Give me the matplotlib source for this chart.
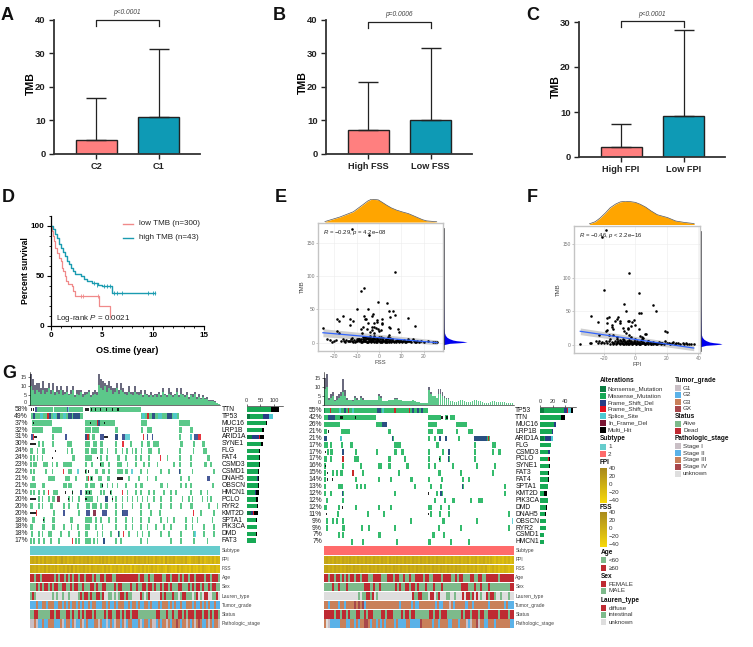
import numpy as np
import matplotlib
matplotlib.use('Agg')
import matplotlib.pyplot as plt
from matplotlib.colors import LinearSegmentedColormap, to_rgb
from matplotlib.patches import Rectangle
from matplotlib.ticker import MultipleLocator

W, H = 753, 647
plt.rcParams['font.family'] = ['Liberation Sans', 'DejaVu Sans']
plt.rcParams['mathtext.fontset'] = 'custom'
plt.rcParams['mathtext.it'] = 'Liberation Sans:italic'
plt.rcParams['mathtext.rm'] = 'Liberation Sans'

# ---- bar panels
a_labels = ['C2', 'C1']
a_mean = [4.2, 10.8]
a_top = [16.5, 31.3]
b_labels = ['High FSS', 'Low FSS']
b_mean = [7.2, 10.0]
b_top = [21.4, 31.5]
c_labels = ['High FPI', 'Low FPI']
c_mean = [2.3, 9.2]
c_top = [7.3, 28.3]

# ---- survival
low_t = [0, 0.15, 0.25, 0.35, 0.45, 0.6, 0.8, 1.0, 1.1, 1.25, 1.4, 1.5, 1.7, 2.1, 2.2, 2.4, 4.7, 5.8]
low_s = [100, 95, 90, 85, 78, 73, 68, 65, 58, 55, 50, 45, 42, 40, 35, 30, 20, 10]
high_t = [0, 0.2, 0.4, 0.6, 0.8, 1.0, 1.2, 1.4, 1.6, 1.8, 2.0, 2.2, 2.4, 3.0, 3.3, 3.6, 4.0, 4.6, 5.0, 6.0, 10.2]
high_s = [100, 97, 92, 88, 82, 78, 74, 70, 65, 62, 58, 55, 52, 50, 47, 45, 43, 41, 40, 33, 33]
low_cens_t = [3.0, 3.2, 4.6, 5.85]
low_cens_s = [30, 30, 30, 10]
high_cens_t = [4.2, 4.5, 5.2, 5.5, 5.8, 6.2, 6.5, 7.0, 9.5, 10.0, 10.2]
high_cens_s = [43, 41, 40, 40, 40, 33, 33, 33, 33, 33, 33]

# ---- scatter E
e_fss = [-12, -4.5, 7.3, -6.5, -8, -0.5, 3.5, -5, -10, 4.5, 6.5, 7.3, -2.5, -3, -6.5, -6.3, -5.7, 13, 5, -18.5,
         -18, -16, -13, -11.5, -13, -5, -1, -2, -1, 1.5, 1.5, 1.5, -8, -7, -5.5, -4, -3, -2, -1.5, -0.5,
         0, 1, -3, -2, 4.5, 5, 8.5, 9, 16, -25, -18.5, -7.5, 4.5, -4, -2, -18, -12, -10, -9, -6,
         -23, -22, -21, -20, -19, -17, -16, -15, -14, -13, -12.5, -12, -11, -10.5, -10, -9.5, -9, -8.5, -8, -7.5,
         -7, -6.8, -6.5, -6, -5.5, -5, -4.8, -4.5, -4, -3.5, -3, -2.8, -2.5, -2, -1.5, -1, -0.8, -0.5, 0, 0.5,
         1, 1.3, 1.5, 2, 2.5, 3, 3.3, 3.5, 4, 4.5, 5, 5.5, 6, 6.5, 7, 7.5, 8, 8.5, 9, 9.5,
         10, 10.5, 11, 11.5, 12, 12.5, 13, 14, 15, 16, 17, 18, 19, 20, 22, 24, 25, 26,
         -7, -6, -5, -4, -3, -2, -1, 0, 1, 2, 3, 4, 5, 6, -5.5, -3.5, -1.5, 0.5, 2.5, 4.5,
         -15.5, -14.5, -13.5, -11.5, -10.2, -9.2, -8.2, -7.2, -6.2, -5.2, -4.2, -3.2, -2.2, -1.2, -0.2, 0.8, 1.8, 2.8, 3.8, 4.8,
         5.8, 6.8, 7.8, 8.8, 9.8, 10.8, 11.8, 12.8, 13.5, 14.5, 15.5, 16.5, -8.8, -7.8, -6.8, -5.8, -4.6, -3.6, -2.6, -1.6]
e_tmb = [171, 162, 107, 82, 78, 61, 60, 51, 50, 47, 48, 42, 43, 40, 40, 36, 36, 37, 39, 36,
         32, 40, 35, 32, 27, 29, 34, 29, 31, 35, 30, 28, 21, 23, 20, 16, 24, 24, 22, 20,
         17, 19, 19, 15, 24, 22, 21, 16, 25, 22, 17, 14, 11, 10, 10, 14, 7, 6, 5, 8,
         6, 4, 1, 2, 4, 3, 5, 1, 3, 2, 5, 2, 4, 1, 3, 5, 2, 4, 3, 1,
         6, 2, 4, 3, 7, 1, 5, 3, 6, 2, 4, 7, 2, 5, 3, 6, 1, 4, 2, 5,
         3, 6, 1, 4, 2, 5, 1, 3, 6, 2, 4, 1, 5, 2, 3, 1, 4, 2, 1, 3,
         2, 1, 4, 2, 1, 3, 5, 2, 6, 1, 2, 1, 3, 1, 2, 1, 1, 1,
         8, 9, 7, 8, 6, 9, 7, 8, 9, 7, 6, 8, 7, 6, 0.5, 1, 0.5, 1, 0.5, 1,
         2, 4, 3, 1, 2, 4, 1, 2, 3, 1, 2, 3, 1, 2, 4, 1, 3, 2, 1, 3,
         2, 1, 3, 2, 3, 2, 1, 2, 3, 1, 2, 1, 6, 5, 5, 6, 5, 5, 6, 5]
e_dens_x = [-24.1, -17.4, -11.4, -7, -5, -3.3, -0.3, 1.5, 3.4, 5.5, 7.9, 10.5, 13.1, 15.5, 17.6, 19.5, 21.3, 25.8]
e_dens_y = [0.02, 0.22, 0.45, 0.77, 0.92, 1.0, 0.97, 0.86, 0.74, 0.62, 0.52, 0.44, 0.37, 0.27, 0.18, 0.1, 0.05, 0.01]
e_tmb_dens_y = [-3, -1, 0, 1, 2, 3, 4, 6, 8, 11, 15, 22, 35, 60, 100, 170]
e_tmb_dens_x = [0.0, 0.25, 0.7, 1.0, 0.85, 0.55, 0.4, 0.25, 0.15, 0.08, 0.04, 0.02, 0.015, 0.008, 0.004, 0.002]
e_line_x = [-25, 26]
e_line_y = [15, 0]
e_line_lo = [9, -3]
e_line_hi = [21, 4]

# ---- scatter F
f_fpi = [-19, -21, -4, -20, 2, -7, 11, -6, 13, 2, 3.5, -28, -18, -17, -11, -12, -13, -24, -10, -10,
         -15, -18, -4, -1, -2, -5, 0, -3, -5, -8, -15, -14, -19, -18, -7, -6, -5, 2, 19, 20,
         6, 7, 3, 4, 5, -4, -3, -23, -14, -12, -17,
         -35, -29, -28, -25, -24, -23, -22, -21, -20, -19, -18, -17, -16, -15, -14, -13, -12, -11, -10, -9.5,
         -9, -8.5, -8, -7.5, -7, -6.5, -6, -5.5, -5, -4.5, -4, -3.5, -3, -2.5, -2, -1.5, -1, -0.5, 0, 0.5,
         1, 1.5, 2, 2.5, 3, 3.5, 4, 4.5, 5, 6, 7, 8, 9, 10, 11, 12, 13, 14, 15, 16,
         17, 18, 19, 20, 21, 22, 23, 24, 25, 26, 27, 28, 30, 31, 32, 33, 34, 35, 37,
         -16, -12, -8, -4, 0, 4, 8, -14, -10, -6, -2, 2, 6, 10,
         -13.5, -12.5, -11.5, -10.5, -8.8, -7.8, -6.8, -5.8, -4.8, -3.8, -2.8, -1.8, -0.8, 0.2, 1.2, 2.2, 3.2, 4.2, 5.2, 6.2,
         7.2, 8.2, 9.2, 10.2, 11.2, 12.2, 13.2, 14.2, 15.2, 16.2]
f_tmb = [171, 161, 107, 82, 77, 61, 60, 50, 50, 47, 48, 43, 40, 41, 42, 38, 35, 34, 35, 32,
         30, 33, 36, 37, 34, 36, 30, 28, 24, 25, 27, 23, 20, 22, 20, 18, 25, 23, 21, 19,
         16, 16, 13, 12, 10, 14, 11, 14, 14, 11, 15,
         1, 2, 2, 6, 3, 5, 2, 4, 3, 6, 2, 5, 1, 4, 3, 6, 2, 5, 7, 3,
         6, 2, 5, 1, 7, 4, 2, 6, 3, 1, 5, 2, 6, 4, 1, 3, 5, 2, 4, 1,
         6, 3, 2, 4, 1, 5, 3, 2, 4, 1, 3, 5, 2, 1, 4, 2, 3, 1, 4, 2,
         3, 1, 5, 2, 3, 1, 2, 4, 1, 2, 3, 1, 2, 1, 2, 1, 1, 1, 1,
         8, 9, 8, 7, 9, 8, 6, 1, 1, 0.5, 1, 0.5, 1, 0.5,
         3, 1, 4, 2, 3, 1, 4, 2, 3, 1, 4, 2, 3, 1, 2, 3, 1, 2, 3, 1,
         2, 1, 3, 2, 1, 2, 1, 3, 2, 1]
f_dens_x = [-29.2, -25.5, -22.4, -19, -16, -12.5, -9.6, -6.4, -3, 0, 3, 6.4, 10, 13.9, 17, 20.3, 25.6, 31, 37.3]
f_dens_y = [0.03, 0.12, 0.28, 0.5, 0.72, 0.88, 0.97, 1.0, 0.98, 0.95, 0.87, 0.75, 0.58, 0.42, 0.36, 0.3, 0.15, 0.09, 0.04]
f_tmb_dens_y = [-3, -1, 0, 1, 2, 3, 4, 6, 8, 11, 15, 22, 35, 60, 100, 170]
f_tmb_dens_x = [0.0, 0.25, 0.7, 1.0, 0.9, 0.6, 0.42, 0.26, 0.16, 0.08, 0.04, 0.03, 0.02, 0.008, 0.004, 0.002]
f_line_x = [-35, 37]
f_line_y = [20, -5]
f_line_lo = [15, -9]
f_line_hi = [25, -1]

# ---- oncoplot, left cohort
left_pct = [58, 49, 37, 32, 31, 30, 24, 24, 23, 22, 21, 21, 21, 20, 20, 20, 18, 18, 18, 17]
left_genes = ['TTN', 'TP53', 'MUC16', 'LRP1B', 'ARID1A', 'SYNE1', 'FLG', 'FAT4', 'CSMD3', 'CSMD1',
              'DNAH5', 'OBSCN', 'HMCN1', 'PCLO', 'RYR2', 'KMT2D', 'SPTA1', 'PIK3CA', 'DMD', 'FAT3']
left_runs = [
    [(22, 68), (72, 110), (117, 160), (180, 332)],
    [(3, 160), (332, 447)],
    [(7, 65), (165, 255), (332, 350), (447, 480)],
    [(7, 40), (67, 95), (165, 182), (185, 207), (255, 265), (332, 340), (350, 365), (447, 455), (480, 490)],
    [(67, 70), (165, 180), (185, 195), (255, 265), (447, 450), (480, 485)],
    [25, (35, 43), (67, 70), (110, 125), (165, 180), (190, 200), (210, 220), (255, 260), 300, (332, 338), (350, 360), (368, 388), (450, 460), (488, 495), (515, 525)],
    [(0, 10), 20, (35, 45), (110, 115), (122, 128), (165, 178), (182, 200), (210, 220), 230, 255, 275, 288, 305, 315, 332, (355, 365), (385, 390), 447, 488, (520, 530)],
    [0, 10, 20, (35, 40), (125, 135), (165, 185), (210, 215), (228, 235), (260, 270), 285, 315, 330, 355, 410, 447, 480, (530, 540)],
    [(0, 5), 10, 15, (40, 55), (65, 70), (78, 85), (100, 125), 165, (182, 190), (210, 222), (235, 240), (260, 275), 290, 315, 340, 355, 380, 430, 447, 480, (522, 532), 540],
    [0, 10, 45, (65, 70), (115, 125), 165, (195, 205), (215, 225), 235, (260, 280), (285, 295), 330, 350, 390, 415, 447, 485, 550],
    [(7, 15), (55, 75), (105, 120), (135, 140), (168, 172), (180, 190), (205, 215), (230, 240), 295, 325, 350, 375, 450, 475],
    [(0, 18), (35, 45), (100, 110), (115, 125), (165, 175), (180, 195), (210, 220), 230, 245, 260, 285, 315, (330, 338), (390, 400), 410, 450, 465, 480, (545, 552)],
    [(0, 5), (10, 15), 25, 40, (70, 85), 125, (165, 185), 210, (220, 225), 240, 290, 315, 330, 355, 370, 400, 420, 435, 480, 510, 530],
    [25, (35, 40), (55, 60), (65, 75), 115, 125, 145, (165, 190), 200, (225, 235), 245, 255, 275, 290, 305, 320, 335, 350, 370, 390, 420, 455, 475, 485, 515, 530, 540],
    [(0, 10), 25, 35, (60, 70), 100, 115, 142, (168, 180), (185, 200), 210, (225, 235), 255, 275, 305, 330, 355, 390, 420, 450, 480, 485, 535, 560],
    [70, 145, 255, 275, 330, 360, 388, 510, 550],
    [(5, 15), (40, 45), (65, 75), (120, 128), (165, 185), 195, 210, 235, 255, 285, 305, 330, 355, 390, 410, 430, 465, 485, 500, 545],
    [(0, 10), (35, 45), (65, 75), 100, 122, 142, (165, 180), 195, 215, 255, 285, 305, 330, 350, 375, 400, 420, 465, 485, 520, 550],
    [(2, 10), 25, (35, 40), (55, 65), 90, 115, 145, (165, 175), 200, 215, 240, 265, 295, 320, 335, 355, 390, 415, 450, 490, 520, 550],
    [0, 10, 25, 40, 60, 85, 135, 145, (165, 182), 190, 200, 220, (255, 260), 270, 330, 350, 420, 450, 490, 530],
]
left_marks = [
    [(2, 6, 'M'), (8, 12, 'M'), (14, 20, 'D'), (110, 114, 'D'), (114, 117, 'S'), (165, 170, 'M'), (172, 176, 'M'), (182, 186, 'M'), (195, 199, 'M'), (210, 214, 'M'), (228, 232, 'M'), (245, 248, 'M'), (262, 266, 'M')],
    [(10, 14, 'D'), (30, 40, 'S'), (52, 56, 'I'), (58, 64, 'D'), (70, 78, 'S'), (80, 90, 'D'), (100, 108, 'S'), (115, 125, 'D'), (130, 150, 'D'), (335, 345, 'S'), (352, 358, 'I'), (365, 375, 'D'), (385, 395, 'S'), (410, 425, 'D'), (430, 440, 'S')],
    [(8, 12, 'M'), (180, 184, 'M'), (200, 205, 'I'), (205, 210, 'D'), (222, 225, 'M')],
    [],
    [(2, 8, 'D'), (8, 12, 'I'), (12, 20, 'M'), (105, 110, 'D'), (165, 172, 'D'), (172, 178, 'I'), (210, 222, 'D'), (222, 235, 'M'), (255, 265, 'D'), (275, 285, 'D'), (285, 300, 'S'), (338, 342, 'I'), (352, 355, 'D'), (365, 368, 'D'), (480, 485, 'S'), (493, 505, 'D'), (505, 513, 'I')],
    [(0, 18, 'M'), (275, 282, 'I')],
    [(75, 78, 'M')],
    [(67, 69, 'M'), (200, 203, 'M'), (390, 393, 'I')],
    [(210, 213, 'M')],
    [(100, 103, 'I'), (142, 148, 'S'), (165, 168, 'M'), (175, 178, 'M'), (302, 310, 'S'), (447, 450, 'D')],
    [(175, 178, 'I'), (182, 185, 'M'), (260, 280, 'M'), (530, 540, 'D')],
    [(215, 218, 'M')],
    [(55, 58, 'I'), (105, 108, 'M'), (125, 128, 'M'), (150, 155, 'D'), (168, 172, 'M'), (176, 180, 'M'), (240, 243, 'M'), (275, 280, 'I')],
    [(0, 18, 'M'), (82, 90, 'X'), (115, 118, 'M'), (165, 170, 'M'), (225, 235, 'D'), (245, 248, 'M')],
    [],
    [(0, 18, 'M'), (18, 22, 'I'), (100, 105, 'D'), (168, 180, 'D'), (190, 198, 'X'), (215, 230, 'D'), (275, 295, 'D'), (490, 493, 'I')],
    [(40, 43, 'M')],
    [],
    [(280, 283, 'I'), (265, 268, 'D'), (493, 497, 'S')],
    [(125, 129, 'I'), (220, 224, 'D')],
]
left_nonsense = [0, 12, 0, 0, 18, 0, 0, 0, 0, 0, 0, 0, 0, 0, 0, 14, 0, 0, 0, 0]
left_missense = [90, 48, 70, 56, 2, 52, 44, 43, 45, 40, 36, 40, 30, 35, 38, 1, 34, 37, 32, 32]
left_del = [0, 22, 0, 0, 24, 0, 0, 0, 0, 0, 6, 0, 4, 0, 0, 8, 0, 0, 0, 0]
left_ins = [0, 0, 0, 0, 3, 0, 0, 0, 0, 0, 0, 0, 0, 0, 0, 3, 0, 0, 0, 0]
left_splice = [0, 12, 0, 0, 0, 0, 0, 0, 0, 0, 0, 0, 0, 0, 0, 0, 0, 0, 0, 0]
left_multi = [27, 0, 5, 8, 15, 8, 4, 5, 2, 3, 4, 4, 10, 7, 4, 16, 3, 2, 5, 2]

left_top_green = [10, 8, 6, 8, 7, 6, 8, 6, 7, 9, 6, 8, 5, 7, 6, 8, 5, 6, 7, 5, 6, 8, 4, 6, 5, 7, 4, 5, 6, 7, 4, 5,
                  6, 5, 11, 9, 8, 10, 7, 9, 8, 6, 7, 9, 6, 8, 7, 6, 5, 7, 6, 5, 7, 6, 5, 6, 4, 6, 5, 4, 5, 4,
                  5, 4, 6, 4, 7, 5, 4, 6, 5, 4, 5, 7, 4, 6, 5, 4, 5, 3, 5, 4, 6, 3, 4, 3, 4, 3, 3, 2, 2, 2, 1.5, 1, 0.5]
left_top_other = [7, 6, 5, 4, 5, 3, 5, 3, 2, 3, 2, 4, 2, 3, 2, 2, 3, 1, 3, 1, 2, 2, 1, 2, 3, 1, 2, 2, 1, 1, 1, 2,
                  2, 2, 6, 5, 5, 2, 4, 4, 2, 3, 2, 3, 2, 4, 2, 1, 2, 3, 1, 2, 3, 1, 2, 2, 1, 2, 1, 1, 2, 1,
                  1, 2, 1, 1, 2, 1, 1, 3, 2, 1, 1, 2, 1, 3, 1, 1, 2, 1, 1, 2, 1, 1, 2, 0.5, 1, 0.5, 1, 0.5, 0.5, 0.5, 0.5, 0, 0]

# ---- oncoplot, right cohort
right_pct = [55, 42, 26, 21, 21, 17, 17, 17, 16, 15, 14, 13, 12, 12, 12, 11, 9, 9, 7, 7]
right_genes = ['TP53', 'TTN', 'MUC16', 'LRP1B', 'ARID1A', 'FLG', 'CSMD3', 'PCLO', 'SYNE1', 'FAT3',
               'FAT4', 'SPTA1', 'KMT2D', 'PIK3CA', 'DMD', 'DNAH5', 'OBSCN', 'RYR2', 'CSMD1', 'HMCN1']
right_runs = [
    [(0, 313)],
    [(0, 156), (313, 353), (363, 373), (378, 395)],
    [(0, 48), (156, 191), (313, 340), (396, 430)],
    [(0, 10), (50, 78), (192, 203), (313, 328), (341, 358), (396, 400), (432, 448)],
    [(0, 10), (48, 53), (205, 209), 313, 331, (346, 353), (363, 371), 403, (450, 498)],
    [(0, 11), (18, 23), 50, (78, 88), (210, 233), (336, 346), 450, (504, 518)],
    [(8, 13), (18, 28), (53, 59), 93, 156, (210, 220), (233, 240), 313, 355, (373, 378), 450, 504, (522, 531)],
    [(0, 10), (18, 23), (53, 59), (90, 106), (192, 203), 240, 313, 346, 373, 450],
    [0, 53, 108, (163, 173), (192, 203), (248, 256), 313, 331, 386, 456, 510],
    [(0, 6), 25, 36, (48, 58), (83, 90), 114, 223, (343, 351), 408, 504],
    [0, (93, 100), 163, 198, (258, 268), 313, 353, 415, 433],
    [0, (43, 58), 96, 108, 121, 270, 318, 348, 415, 541],
    [(0, 3), (18, 23), 55, 211, 336, (350, 358), (541, 548)],
    [6, 55, 331, (361, 368), (386, 393), 438, (463, 478)],
    [(0, 8), 41, 93, 163, 198, (313, 326), 348, 373],
    [38, 128, 178, 318, 346, 373, (553, 560)],
    [6, 25, 36, 55, 260, (355, 363), 458],
    [6, (55, 63), 110, 133, 211, 343, 408, 553],
    [43, 55, (163, 171), (325, 333), 358],
    [80, 115, 218, (313, 321), 378, 433],
]
right_marks = [
    [(0, 4, 'N'), (18, 22, 'I'), (46, 50, 'S'), (60, 66, 'D'), (72, 76, 'I'), (84, 90, 'S'), (160, 170, 'D'), (175, 180, 'S'), (212, 216, 'I'), (255, 260, 'I'), (265, 270, 'D'), (280, 286, 'D'), (292, 298, 'D')],
    [(13, 33, 'D'), (48, 58, 'M'), (92, 96, 'M'), (353, 358, 'M'), (368, 372, 'M')],
    [(173, 191, 'D')],
    [(13, 15, 'M')],
    [(0, 10, 'D'), (48, 53, 'S'), (205, 209, 'D'), (346, 353, 'D'), (363, 371, 'D'), (450, 490, 'D'), (492, 496, 'I')],
    [],
    [(3, 6, 'M'), (53, 59, 'D'), (373, 378, 'D')],
    [(53, 59, 'I'), (345, 348, 'M'), (373, 376, 'D')],
    [(3, 6, 'M'), (348, 350, 'M')],
    [(8, 11, 'M'), (83, 90, 'I')],
    [(8, 11, 'M'), (25, 28, 'M')],
    [(415, 418, 'D')],
    [(53, 57, 'D'), (313, 316, 'M'), (350, 354, 'D')],
    [],
    [(55, 58, 'M')],
    [(6, 9, 'M'), (313, 316, 'M')],
    [(565, 568, 'S')],
    [],
    [],
    [],
]
right_nonsense = [6, 0, 0, 0, 6, 0, 0, 0, 0, 0, 0, 0, 0, 0, 0, 0, 0, 0, 0, 0]
right_missense = [33, 33, 23, 19, 2, 17, 13, 12, 14, 13, 12, 13, 6, 12, 10, 8, 9, 9, 7, 7]
right_del = [4, 0, 3, 2, 9, 0, 3, 0, 0, 0, 0, 0, 0, 0, 0, 0, 0, 0, 0, 0]
right_ins = [2, 0, 0, 0, 0, 0, 0, 2, 0, 0, 0, 0, 0, 0, 0, 0, 0, 0, 0, 0]
right_splice = [5, 0, 0, 0, 4, 0, 0, 0, 0, 0, 0, 0, 0, 0, 0, 0, 0, 0, 0, 0]
right_multi = [2, 7, 0, 0, 0, 0, 0, 2, 2, 1, 2, 0, 5, 0, 1, 2, 0, 0, 0, 0]

right_top_green = [9, 10, 3, 4, 5, 2, 3, 4, 5, 7, 5, 3, 3, 2.5, 2, 4, 3, 2.5, 4, 3, 3, 3, 3, 2.5, 2.5, 2.5, 3, 5, 4,
                   2, 2, 2, 3, 3, 3, 3.5, 3.5, 3, 2.5, 2, 2, 2, 2, 2, 3, 2, 1.5, 1.5, 1, 1, 1, 1, 8, 6, 5, 5,
                   4, 6, 6, 5, 4, 3.5, 3.5, 2, 2, 1.5, 1.5, 2, 3, 3, 2, 1.5, 1.5, 1.5, 2, 3, 2.5, 2, 2, 1.5,
                   1, 1, 1, 1.5, 2, 2, 1.5, 1.5, 1.5, 1.5, 1.5, 1, 1, 1, 1]
right_top_other = [6, 7, 1, 2, 2, 1, 2, 2, 2, 7, 3, 1, 0, 0.5, 0.5, 1, 1, 0.5, 1, 1, 0, 0, 0, 0, 0, 0, 0, 1, 1,
                   0, 0, 0, 0, 0, 0, 0.5, 0.5, 0, 0, 0, 0, 0, 0, 0, 0, 0, 0, 0, 0, 0, 0, 0, 2, 1, 0, 0,
                   0, 3, 3, 2, 1, 0.5, 0.5, 0, 0, 0, 0, 0, 0, 0, 0, 0, 0, 0, 0, 0, 0, 0, 0, 0,
                   0, 0, 0, 0, 0, 0, 0, 0, 0, 0, 0, 0, 0, 0, 0]

# ---- annotation tracks, one letter per cell
track_names = ['Subtype', 'FPI', 'FSS', 'Age', 'Sex', 'Lauren_type', 'Tumor_grade', 'Status', 'Pathologic_stage']
left_tracks = [
    'A' * 95,
    '4352636254354264153645245353425364536253645264536354625345362547356482645375546378546527486574856',
    '3453645263546374536251736453647356455736485647584659486574859647586579468794857869587968578967587',
    'RRGRRGRRRRRRGRGRRGRGRGRRGRRGRRRGRGGRRGRRRGGRRRRRRRRRRRGRRGGRGGRRRRGGRRGRRRGRGRRGRRGRRRRGRRGRRRG',
    'GGGRGRGRRGRGRRGGRRGGRGRRGGRGGGRRGRGGRRGGGGRGRRGGGGRGGRGGRRGRRGRGGRGRRGRGGGRRGGGRGRGRRGRGGRGRRGG',
    'GRGUUUUUUUUGUGUUGUUGUUUUGRGRRGRGGRRGRUUGGUGUGRRGRGGUUUURGUGRUUUUURGRGGGRGGUGRRGGGUGRUGURRUUGGRU',
    'BBBOBBOOBOOOBBOOBOBOBOOBOBOBBOBOOBBBOOBOBBOBOOOBBOBOOBOBBOOBOBBBOBOOOBOBOBBOBBOOOBOBBOBOBOBBOBB',
    'GGRRGGGGGGRRGRRGGGRRGRGGRGRGRRRGRGGGGRGRRGGRRGRGRRGRRRGGGGGGGGGRRGGGRGGRGGRRGRGRRRGRRRGRRGRGRRG',
    'LLOLBBOBBOOOBBBOLBOOBOLBBOLBOBBBOOLOBBLBOBLOOBOLBOOBBBOLBOOBOLLBOBOOLOBOOXOBOOLOBOLOXOBBOLOBOOL',
]
right_tracks = [
    'C' * 95,
    '3243524352435243524352435243524362435243524352435243524352445364536453645374537453647468576857586',
    '3243524353524352435243524352435243524352435243524352435243524352435243546354637546378647586756867',
    'RRGRRGRRGRGRGRRGRRGRRRGGRRRRGGGRRRGRRGGRGGRGGRRRRGRRGGRRRRGRRRRGGRGRRGGGRRGGRRGGRRRRRRGRRRRRRR',
    'GGGGRGGRGGGRGGGGGGGGRRRGRGGRGGGGGGGRGRGGRRGRRGRGGGRGGGRGGGRGGGGGGGGGRRRGGGRGGRGGGRGGGGGGGGGGRR',
    'UUUUUUUUUUUUUUUUUGUGGRRGRUGUUUUUUUUUUUUUUUUURGGRRGGGURRUGRUUUGGUUGUUURURRGRURUGUURGRRGUUGUUUGUU',
    'OOBOOOOBOOBOOOOXOXOXBOOOOOOOOOOOOOOOOBOOOOOBOBBOOOOOOOOBOBBOOOLOBOOOOOBOOBOOOOOOOBOOOOOOOBOBBB',
    'RRRRRGRRGRRGRGGGRRGGRGRRGGGGRRGRRRGGGGRGRRGRRGGGGGGGRRGRRGRRRGGGGGGGRGRRGRRRGRRGGRRRRRGRRRRGRR',
    'OULBBBBBOOOBBOOBOBOOXXOBOOBOBOBOOOOBOBBBBOOBBBBBXOOOOOBOOBOOOOBBOOOBOOOLBLOOXLOOBBOOOBOOOOOOOBB',
]

# ---- colours
c_alt = {'N': '#0a7d41', 'G': '#17a955', 'D': '#273c85', 'I': '#e3101d', 'S': '#4dc9d2', 'X': '#7a1533', 'M': '#000000'}
c_age = {'R': '#be2a32', 'G': '#7dba8b'}
c_lauren = {'R': '#be2a32', 'G': '#7dba8b', 'U': '#dedede'}
c_stage = {'L': '#c9bfc5', 'B': '#5bb2e8', 'O': '#c9805a', 'X': '#a8474b', 'U': '#dedede'}
c_subtype = {'A': '#66cccc', 'C': '#ff6b6b'}
gold = LinearSegmentedColormap.from_list('gold', ['#a88a1e', '#f7d80a'])
c_gold = {str(i): gold(0.2 + 0.55 * i / 9) for i in range(10)}
track_colors = [c_subtype, c_gold, c_gold, c_age, c_age, c_lauren, c_stage, c_age, c_stage]

fig = plt.figure(figsize=(W / 100, H / 100), dpi=100)


def ax_px(x0, y0, x1, y1, **kw):
    return fig.add_axes([x0 / W, 1 - y1 / H, (x1 - x0) / W, (y1 - y0) / H], **kw)


def ftext(x, y, s, **kw):
    kw.setdefault('va', 'center')
    kw.setdefault('ha', 'left')
    fig.text(x / W, 1 - y / H, s, **kw)


def bar_panel(x0, y0, y1, ymax, step, labels, mean, top, ptext, br_y, p_y, lab_x, lab_y):
    ax = ax_px(x0, y0, x0 + 146, y1)
    ax.patch.set_alpha(0)
    pos = [0, 1]
    ax.bar(pos, mean, width=0.656, color=['#ff7f7f', '#0e9ab5'], edgecolor='#222222', linewidth=1.0)
    err = np.array(top) - np.array(mean)
    ax.errorbar(pos, mean, yerr=[[0, 0], err], fmt='none', ecolor='#222222', elinewidth=0.9, capsize=7.2, capthick=1.0)
    ax.set_xlim(-0.672, 1.664)
    ax.set_ylim(0, ymax)
    ax.set_xticks(pos)
    ax.set_xticklabels(labels, fontweight='bold', fontsize=6.6, color='#222222')
    ax.set_yticks(np.arange(0, ymax + 1, step))
    for t in ax.get_yticklabels():
        t.set_fontweight('bold')
        t.set_fontsize(6.8)
        t.set_color('#222222')
    ax.tick_params(length=3.5, width=1.0, pad=2.5, color='#222222')
    for s in ['top', 'right']:
        ax.spines[s].set_visible(False)
    for s in ['left', 'bottom']:
        ax.spines[s].set_linewidth(1.3)
        ax.spines[s].set_color('#333333')
    x_a, x_b = x0 + 42, x0 + 104.5
    fig.add_artist(plt.Line2D([x_a / W, x_a / W, x_b / W, x_b / W],
                              [1 - (br_y + 5.5) / H, 1 - br_y / H, 1 - br_y / H, 1 - (br_y + 5.5) / H],
                              color='#222222', lw=0.9))
    ftext((x_a + x_b) / 2, p_y, ptext, ha='center', fontsize=4.8, style='italic', color='#444444')
    ftext(lab_x, lab_y, 'TMB', rotation=90, ha='center', fontsize=7.6, fontweight='bold')


bar_panel(54, 19.5, 153.7, 40, 10, a_labels, a_mean, a_top, 'p<0.0001', 20, 13, 31, 84)
bar_panel(326, 19.5, 153.7, 40, 10, b_labels, b_mean, b_top, 'p=0.0006', 22, 15, 303, 83)
bar_panel(579, 22, 157, 30, 10, c_labels, c_mean, c_top, 'p<0.0001', 21, 14, 556, 87)

# ---- D
ax = ax_px(50.7, 216, 204, 326)
ax.patch.set_alpha(0)
ax.step(low_t, low_s, where='post', color='#f08a8a', lw=0.9)
ax.step(high_t, high_s, where='post', color='#1a9bb0', lw=1.0)
ax.plot(low_cens_t, low_cens_s, '|', color='#f08a8a', ms=2.5, mew=0.6)
ax.plot(high_cens_t, high_cens_s, '|', color='#1a9bb0', ms=2.5, mew=0.6)
ax.set_xlim(0, 15)
ax.set_ylim(0, 110)
ax.set_xticks([0, 5, 10, 15])
ax.set_yticks([0, 50, 100])
ax.xaxis.set_minor_locator(MultipleLocator(1))
ax.yaxis.set_minor_locator(MultipleLocator(10))
ax.tick_params(which='major', length=3, width=0.8, labelsize=5.8, pad=1.5)
ax.tick_params(which='minor', length=1.6, width=0.6)
for t in ax.get_xticklabels() + ax.get_yticklabels():
    t.set_fontweight('bold')
for s in ['top', 'right']:
    ax.spines[s].set_visible(False)
for s in ['left', 'bottom']:
    ax.spines[s].set_linewidth(0.9)
ax.set_xlabel('OS.time (year)', fontsize=6.6, fontweight='bold', labelpad=5)
ax.set_ylabel('Percent survival', fontsize=6.2, fontweight='bold', labelpad=0.5)
fig.add_artist(plt.Line2D([123 / W, 133 / W], [1 - 223.7 / H] * 2, color='#f08a8a', lw=1))
fig.add_artist(plt.Line2D([123 / W, 133 / W], [1 - 237.7 / H] * 2, color='#1a9bb0', lw=1))
ftext(139, 223.7, 'low TMB (n=300)', fontsize=5.8, color='#222222')
ftext(139, 237.7, 'high TMB (n=43)', fontsize=5.8, color='#222222')
ftext(55.7, 319, 'Log-rank $P$ = 0.0021', fontsize=5.8, color='#222222')


def scatter_panel(box, dens_box, side_x1, xt, yt, xlim, ylim, xs, ys, dx, dy, sy, sx, lx, ly, lo, hi, xlabel, note):
    ax = ax_px(*box)
    ax.set_xlim(xlim)
    ax.set_ylim(ylim)
    ax.grid(color='#ececec', lw=0.4)
    ax.set_axisbelow(True)
    ax.fill_between(lx, lo, hi, color='#cfcfcf', lw=0, zorder=2)
    ax.scatter(xs, ys, s=3.4, color='black', lw=0, zorder=3)
    ax.plot(lx, ly, color='#3366ff', lw=0.9, zorder=4)
    ax.set_xticks(xt)
    ax.set_yticks(yt)
    ax.tick_params(length=1.2, width=0.4, labelsize=3.6, labelcolor='#777777', color='#999999', pad=1)
    for s in ax.spines.values():
        s.set_color('#c4c4c4')
        s.set_linewidth(1.0)
    ax.set_xlabel(xlabel, fontsize=4.3, color='#444444', labelpad=1)
    ax.set_ylabel('TMB', fontsize=4.3, color='#444444', labelpad=1)
    ax.text(0.04, 0.925, note, transform=ax.transAxes, fontsize=4.3, color='#222222', va='center')
    top = ax_px(*dens_box)
    top.axis('off')
    top.set_xlim(xlim)
    top.set_ylim(0, 1.03)
    top.fill_between(dx, 0, dy, color='#ffa500', lw=0)
    top.plot(dx, dy, color='#555555', lw=0.5)
    side = ax_px(box[2] + 0.5, box[1], side_x1, box[3])
    side.set_xlim(0, 1)
    side.set_ylim(ylim)
    side.axis('off')
    side.fill_betweenx(sy, 0, sx, color='#0000ee', lw=0)
    side.plot([0, 0], [ylim[0] + 3, ylim[1] - 8], color='#444444', lw=0.5)


scatter_panel((318, 223, 443, 351), (318, 198.5, 443, 222), 467,
              [-20, -10, 0, 10, 20], [0, 50, 100, 150], (-27.2, 28.6), (-12.5, 180),
              e_fss, e_tmb, e_dens_x, e_dens_y, e_tmb_dens_y, e_tmb_dens_x,
              e_line_x, e_line_y, e_line_lo, e_line_hi, 'FSS', '$R$ = \u22120.29, $p$ = 4.2e\u221208')
scatter_panel((574, 225.7, 700, 352.7), (574, 200.5, 700, 224.5), 722,
              [-20, 0, 20, 40], [0, 50, 100, 150], (-39, 41), (-12, 178),
              f_fpi, f_tmb, f_dens_x, f_dens_y, f_tmb_dens_y, f_tmb_dens_x,
              f_line_x, f_line_y, f_line_lo, f_line_hi, 'FPI', '$R$ = \u22120.46, $p$ < 2.2e\u221216')


def onco_panel(x0, x1, top_y0, top_y, row0, pitch, pct, genes, runs, marks, top_green, top_other,
               nons, mis, dele, ins, spl, multi, bar_x0, bar_scale, bar_ticks, tracks, base, min_w, pct_x, gene_x):
    # sample barplot above the matrix
    ax = ax_px(x0, top_y0, x1, top_y)
    ax.patch.set_alpha(0)
    n = len(top_green)
    pos = np.arange(n) + 0.5
    ax.bar(pos, top_green, width=0.8, color='#5cc88a', lw=0)
    ax.bar(pos, top_other, bottom=top_green, width=0.8, color='#6a6a7e', lw=0)
    ax.set_xlim(0, n)
    ax.set_ylim(0, 18)
    ax.set_xticks([])
    ax.set_yticks([0, 5, 10, 15])
    ax.tick_params(length=1.5, width=0.4, labelsize=4, pad=1, labelcolor='#333333')
    ax.get_yticklabels()[0].set_va('bottom')
    for s in ['top', 'right']:
        ax.spines[s].set_visible(False)
    ax.spines['left'].set_linewidth(0.4)
    ax.spines['bottom'].set_linewidth(0.4)

    # mutation matrix
    y_top = row0 - pitch / 2
    m = ax_px(x0, y_top, x1, y_top + pitch * len(genes))
    m.axis('off')
    m.set_xlim(0, 570)
    m.set_ylim(len(genes) - 0.5, -0.5)
    for i, row in enumerate(runs):
        for r in row:
            s, e = (r, r + min_w) if isinstance(r, int) else r
            m.add_patch(Rectangle((s, i - 0.4), max(e - s, min_w), 0.8, color=base, lw=0))
        for s, e, code in marks[i]:
            h = 0.35 if code == 'M' else 0.8
            m.add_patch(Rectangle((s, i - h / 2), e - s, h, color=c_alt[code], lw=0, alpha=0.85))
        ftext(pct_x, row0 + i * pitch, '%d%%' % pct[i], ha='right', fontsize=4.9, color='#222222')
        ftext(gene_x, row0 + i * pitch, genes[i], fontsize=4.9, color='#111111')

    # gene totals on the right
    b = ax_px(bar_x0, y_top, bar_x0 + 36, y_top + pitch * len(genes))
    b.patch.set_alpha(0)
    b.set_xlim(0, 36 / bar_scale)
    b.set_ylim(len(genes) - 0.5, -0.5)
    left = np.zeros(len(genes))
    for vals, code in zip([nons, mis, dele, ins, spl, multi], ['N', 'G', 'D', 'I', 'S', 'M']):
        b.barh(np.arange(len(genes)), vals, left=left, height=0.66, color=c_alt[code], lw=0)
        left = left + np.array(vals)
    b.xaxis.tick_top()
    b.set_xticks(bar_ticks)
    b.set_yticks([])
    b.tick_params(length=1.5, width=0.4, labelsize=4, pad=0.5, labelcolor='#333333')
    for s in ['left', 'right', 'bottom']:
        b.spines[s].set_visible(False)
    b.spines['top'].set_linewidth(0.4)

    # annotation tracks
    for i, cells in enumerate(tracks):
        cy = 550.6 + i * 9.1
        t = ax_px(x0, cy - 4.2, x1, cy + 4.2)
        t.axis('off')
        colors = track_colors[i]
        rgb = np.array([[to_rgb(colors[c]) for c in cells]])
        t.imshow(rgb, aspect='auto', interpolation='nearest')
        ftext(gene_x, cy, track_names[i], fontsize=3.6, color='#444444')


onco_panel(30, 220, 372, 404.5, 409.3, 6.92, left_pct, left_genes, left_runs, left_marks, left_top_green, left_top_other,
           left_nonsense, left_missense, left_del, left_ins, left_splice, left_multi,
           246.7, 0.275, [0, 50, 100], left_tracks, '#5cc88a', 5, 28, 221.7)
onco_panel(324, 513.5, 372, 405, 410.7, 6.9, right_pct, right_genes, right_runs, right_marks, right_top_green, right_top_other,
           right_nonsense, right_missense, right_del, right_ins, right_splice, right_multi,
           540, 0.625, [0, 20, 40], right_tracks, '#35bb6d', 6, 322, 515.3)


# ---- legends
def legend_block(x, title, title_y, labels, ys, colors):
    ftext(x, title_y, title, fontsize=4.7, fontweight='bold', color='#111111')
    for lab, y, col in zip(labels, ys, colors):
        fig.add_artist(Rectangle((x / W, 1 - (y + 3.1) / H), 5.8 / W, 6.2 / H, color=col, lw=0, transform=fig.transFigure))
        ftext(x + 8, y, lab, fontsize=4.5, color='#333333')


legend_block(600, 'Alterations', 381,
             ['Nonsense_Mutation', 'Missense_Mutation', 'Frame_Shift_Del', 'Frame_Shift_Ins', 'Splice_Site', 'In_Frame_Del', 'Multi_Hit'],
             [389.3, 396, 402.7, 409.3, 416.3, 423, 429.7],
             [c_alt['N'], c_alt['G'], c_alt['D'], c_alt['I'], c_alt['S'], c_alt['X'], c_alt['M']])
legend_block(600, 'Subtype', 438.3, ['1', '2'], [446.7, 454.3], [c_subtype['A'], c_subtype['C']])
legend_block(600.5, 'Age', 552, ['<60', '\u226560'], [560.3, 568.3], [c_age['G'], c_age['R']])
legend_block(600.5, 'Sex', 577, ['FEMALE', 'MALE'], [584.3, 591], [c_age['R'], c_age['G']])
legend_block(600.5, 'Lauren_type', 601, ['diffuse', 'intestinal', 'unknown'], [608.3, 614.7, 622],
             [c_lauren['R'], c_lauren['G'], c_lauren['U']])
legend_block(675, 'Tumor_grade', 381, ['G1', 'G2', 'G3', 'GX'], [388, 395, 402, 409],
             [c_stage['L'], c_stage['B'], c_stage['O'], c_stage['X']])
legend_block(675, 'Status', 416, ['Alive', 'Dead'], [423.7, 430.7], [c_age['G'], c_age['R']])
legend_block(675, 'Pathologic_stage', 438, ['Stage I', 'Stage II', 'Stage III', 'Stage IV', 'unknown'],
             [446.3, 453, 459.7, 466.7, 473.7],
             [c_stage['L'], c_stage['B'], c_stage['O'], c_stage['X'], c_stage['U']])

bar_labels = ['40', '20', '0', '\u221220', '\u221240']
for title, ty, y0, y1, lab_y in [('FPI', 463, 468.3, 502.7, [469, 477, 485, 493, 500.7]),
                                 ('FSS', 507.3, 511.7, 546.7, [513, 521, 529, 537, 545])]:
    ftext(600, ty, title, fontsize=4.7, fontweight='bold', color='#111111')
    cb = ax_px(600, y0, 606.5, y1)
    cb.axis('off')
    cb.imshow(np.linspace(0, 1, 64)[:, None], aspect='auto', cmap=gold)
    for lab, yy in zip(bar_labels, lab_y):
        ftext(608.5, yy, lab, fontsize=4.5, color='#333333')

# ---- panel letters
for lab, x, y in [('A', 1, 15.5), ('B', 273, 15.5), ('C', 526, 15.5), ('D', 2, 197), ('E', 275, 197), ('F', 527, 197), ('G', 2, 373)]:
    ftext(x, y, lab, fontsize=13, fontweight='bold', color='#111111')

fig.savefig('out.png', dpi=100)
